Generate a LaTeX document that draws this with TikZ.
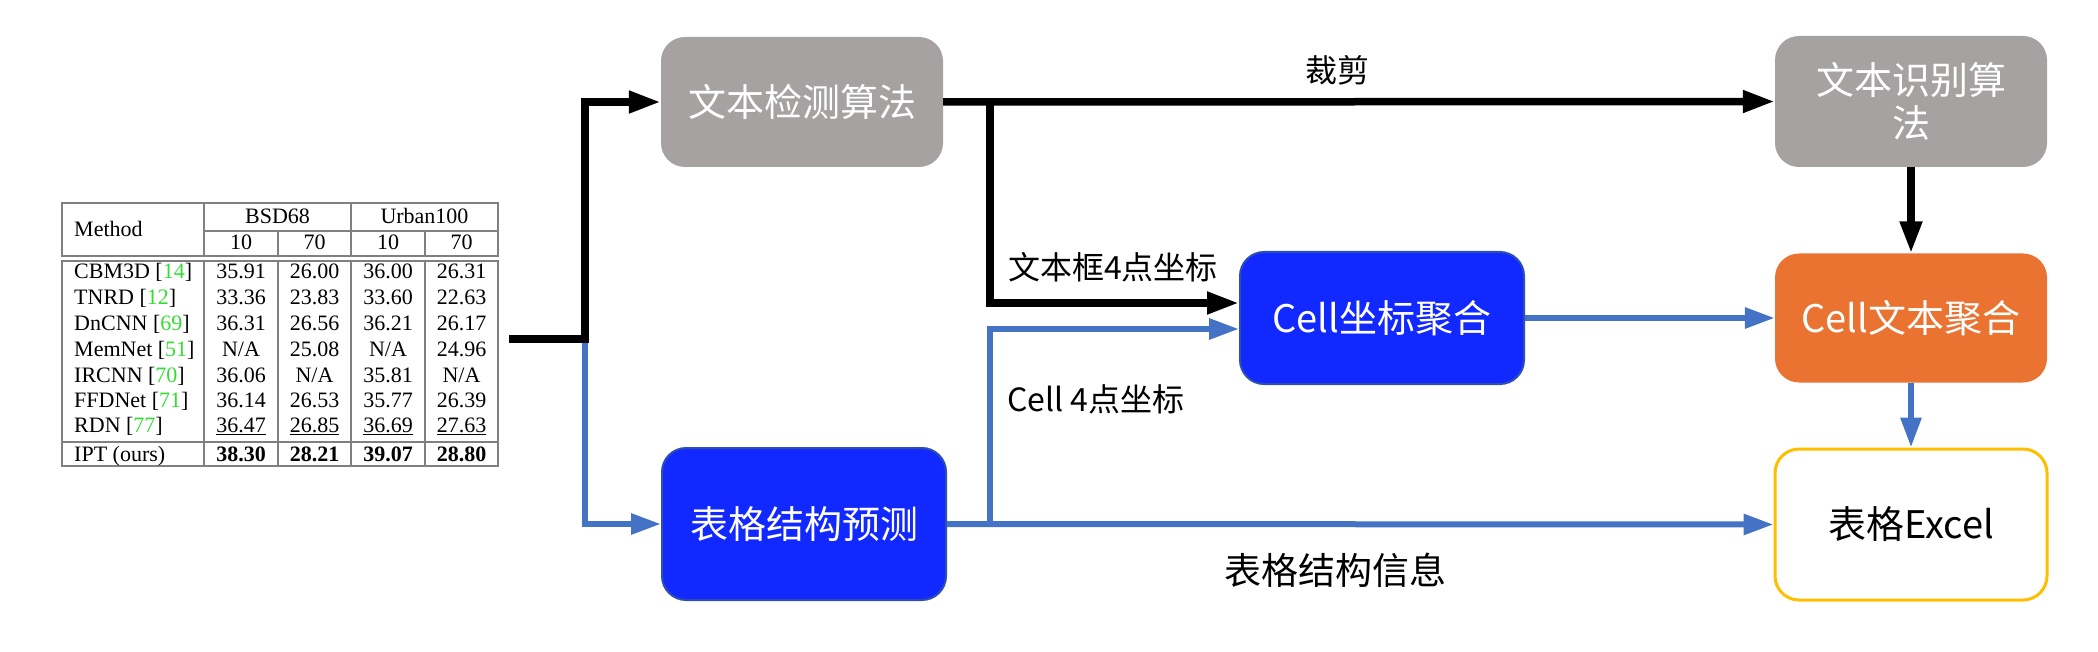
\documentclass[tikz,border=0pt]{standalone}
\usepackage{fontspec}
\setmainfont{Liberation Serif}
\newfontfamily\cjk{Noto Sans CJK SC}
\usetikzlibrary{arrows.meta}
\definecolor{boxgray}{HTML}{A5A2A1}
\definecolor{boxblue}{HTML}{1129FF}
\definecolor{boxblueline}{HTML}{2D4FB5}
\definecolor{boxorange}{HTML}{EA7331}
\definecolor{boxyellow}{HTML}{FFBF00}
\definecolor{linkblue}{HTML}{4472C4}
\definecolor{citegreen}{HTML}{33DD33}
\definecolor{tline}{HTML}{808080}
\tikzset{
  procbox/.style={rounded corners=24pt, inner sep=0pt, align=center,
    font=\cjk\fontsize{38}{43}\selectfont, text=white},
  graybox/.style={procbox, fill=boxgray},
  bluebox/.style={procbox, fill=boxblue, draw=boxblueline, line width=2pt},
  orangebox/.style={procbox, fill=boxorange},
  excelbox/.style={procbox, fill=white, draw=boxyellow, line width=3pt, text=black},
  blk/.style={line width=7.5pt, draw=black, -{Triangle[length=32pt,width=21pt]}},
  blu/.style={line width=6pt, draw=linkblue, -{Triangle[length=30pt,width=20pt]}},
  lbl/.style={font=\cjk\fontsize{32}{36}\selectfont, inner sep=0pt},
  tcell/.style={font=\fontsize{22}{24}\selectfont, inner sep=0pt},
  tl/.style={draw=tline, line width=1.5pt},
}
\begin{document}
\begin{tikzpicture}[x=1pt,y=-1pt]
\useasboundingbox (0,0) rectangle (2098,652);

% ---------- table ----------
\draw[tl] (62,203) rectangle (498,256);
\draw[tl] (204,203) -- (204,256);
\draw[tl] (351,203) -- (351,256);
\draw[tl] (204,231) -- (498,231);
\draw[tl] (278,231) -- (278,256);
\draw[tl] (425,231) -- (425,256);
\draw[tl] (62,261) rectangle (498,466);
\draw[tl] (62,442) -- (498,442);
\foreach \xx in {204,278,351,425} { \draw[tl] (\xx,261) -- (\xx,466); }

\node[tcell,anchor=west] (hmethod) at (74,229) {Method};
\node[tcell,anchor=base] (hbsd) at (277.5,224) {BSD68};
\node[tcell,anchor=base] (hurb) at (424.5,224) {Urban100};
\node[tcell,anchor=base] (h1) at (241,250) {10};
\node[tcell,anchor=base] (h2) at (314.5,250) {70};
\node[tcell,anchor=base] (h3) at (388,250) {10};
\node[tcell,anchor=base] (h4) at (461.5,250) {70};

\foreach \yy/\nm/\ct/\va/\vb/\vc/\vd in {
  272/CBM3D/14/35.91/26.00/36.00/26.31,
  297.5/TNRD/12/33.36/23.83/33.60/22.63,
  323/DnCNN/69/36.31/26.56/36.21/26.17,
  349/MemNet/51/N\slash A/25.08/N\slash A/24.96,
  375/IRCNN/70/36.06/N\slash A/35.81/N\slash A,
  400/FFDNet/71/36.14/26.53/35.77/26.39} {
  \node[tcell,anchor=base west] (rn\yy) at (74,\yy+7) {\nm\ [\textcolor{citegreen}{\ct}]};
  \node[tcell,anchor=base] (ra\yy) at (241,\yy+7) {\va};
  \node[tcell,anchor=base] (rb\yy) at (314.5,\yy+7) {\vb};
  \node[tcell,anchor=base] (rc\yy) at (388,\yy+7) {\vc};
  \node[tcell,anchor=base] (rd\yy) at (461.5,\yy+7) {\vd};
}
\node[tcell,anchor=base west] (rdn) at (74,432) {RDN [\textcolor{citegreen}{77}]};
\node[tcell,anchor=base] (rdna) at (241,432) {\underline{36.47}};
\node[tcell,anchor=base] (rdnb) at (314.5,432) {\underline{26.85}};
\node[tcell,anchor=base] (rdnc) at (388,432) {\underline{36.69}};
\node[tcell,anchor=base] (rdnd) at (461.5,432) {\underline{27.63}};
\node[tcell,anchor=base west] (ipt) at (74,461) {IPT (ours)};
\node[tcell,anchor=base] (ipta) at (241,461) {\textbf{38.30}};
\node[tcell,anchor=base] (iptb) at (314.5,461) {\textbf{28.21}};
\node[tcell,anchor=base] (iptc) at (388,461) {\textbf{39.07}};
\node[tcell,anchor=base] (iptd) at (461.5,461) {\textbf{28.80}};

% ---------- boxes ----------
\node[graybox, minimum width=282pt, minimum height=130pt] (det) at (802,102) {文本检测算法};
\node[graybox, minimum width=272pt, minimum height=131pt] (rec) at (1911,101.5) {文本识别算\\法};
\node[bluebox, minimum width=284pt, minimum height=132pt] (cellco) at (1382,318) {Cell坐标聚合};
\node[orangebox, minimum width=272pt, minimum height=129pt] (celltx) at (1911,318) {Cell文本聚合};
\node[bluebox, minimum width=284pt, minimum height=152pt] (tsp) at (804,524) {表格结构预测};
\node[excelbox, minimum width=272pt, minimum height=151pt] (excel) at (1911,524.5) {表格Excel};

% ---------- connectors ----------
\coordinate (tin) at (509,339);
\coordinate (split) at (585,339);
\coordinate (kcut) at (990,102);
\coordinate (mcut) at (990,524);

\draw[blu] (split) |- (tsp.west);
\draw[blk] (tin) -- (split) |- (det.west);
\draw[blk] (det.east) -- (rec.west);
\draw[blk] (kcut) |- ([yshift=15pt]cellco.west);
\draw[blu] (tsp.east) -- (excel.west);
\draw[blu] (mcut) |- ([yshift=-11pt]cellco.west);
\draw[blu] (cellco.east) -- (celltx.west);
\draw[blk] (rec.south) -- (celltx.north);
\draw[blu] (celltx.south) -- (excel.north);

% ---------- labels ----------
\node[lbl] (lcut) at (1337,70) {裁剪};
\node[lbl, anchor=west] (lbox) at (1008,267) {文本框4点坐标};
\node[lbl, anchor=west] (lcell) at (1007,399) {Cell 4点坐标};
\node[lbl, font=\cjk\fontsize{37}{40}\selectfont] (lstruct) at (1335,570) {表格结构信息};
\end{tikzpicture}
\end{document}
